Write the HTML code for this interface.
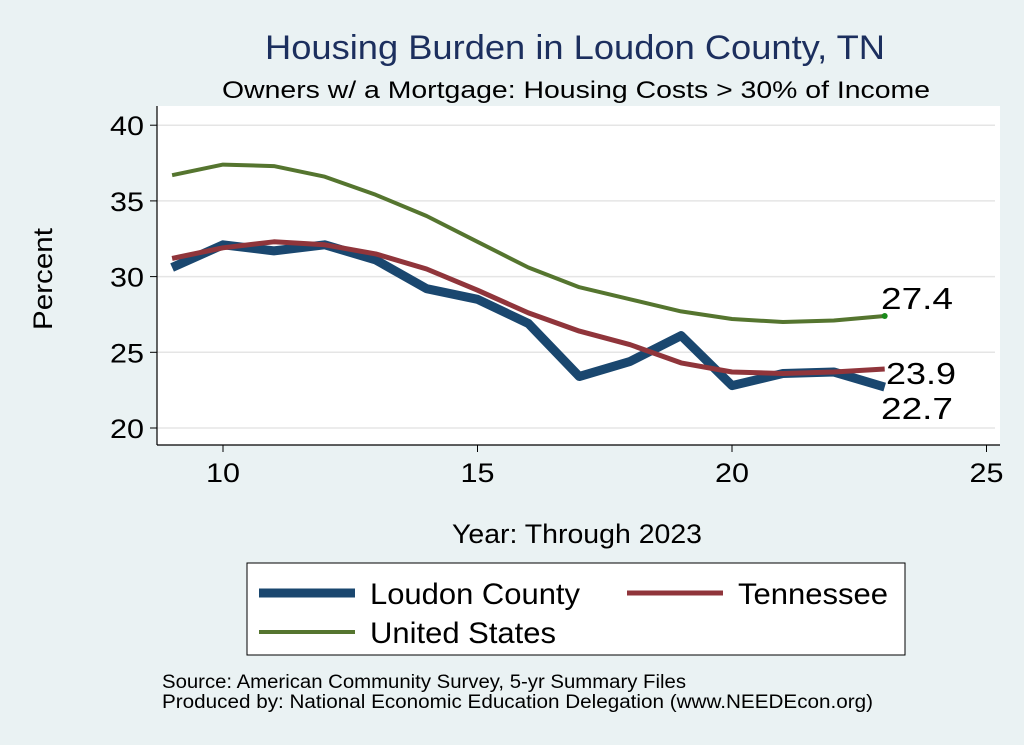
<!DOCTYPE html>
<html><head><meta charset="utf-8"><style>
body{margin:0;background:#eaf2f3;}
svg{display:block;font-family:"Liberation Sans",sans-serif;}
</style></head><body>
<svg id="s" width="1024" height="745" viewBox="0 0 1024 745">
<rect width="1024" height="745" fill="#eaf2f3"/>
<rect x="157" y="106" width="843" height="339" fill="#fff"/>
<text x="265" y="59" font-size="34" fill="#1c2f5e" textLength="620" lengthAdjust="spacingAndGlyphs">Housing Burden in Loudon County, TN</text>
<text x="222" y="98" font-size="24" fill="#000" textLength="708" lengthAdjust="spacingAndGlyphs">Owners w/ a Mortgage: Housing Costs &gt; 30% of Income</text>
<g id="grid" stroke="#e5e5e5" stroke-width="1.5"></g>
<line x1="157" y1="106" x2="157" y2="445" stroke="#000" stroke-width="1.2"/>
<line x1="157" y1="445" x2="1000" y2="445" stroke="#000" stroke-width="1.2"/>
<g id="ticks" font-size="27" fill="#000"></g>
<text transform="translate(52,279) rotate(-90)" text-anchor="middle" font-size="27" textLength="102" lengthAdjust="spacingAndGlyphs">Percent</text>
<text x="452" y="543" font-size="27" textLength="250" lengthAdjust="spacingAndGlyphs">Year: Through 2023</text>
<g id="lines" fill="none" stroke-linejoin="round"></g>
<text x="881" y="309" font-size="31" textLength="72" lengthAdjust="spacingAndGlyphs">27.4</text>
<text x="886" y="384" font-size="31" textLength="70" lengthAdjust="spacingAndGlyphs">23.9</text>
<text x="881" y="419" font-size="31" textLength="72" lengthAdjust="spacingAndGlyphs">22.7</text>
<rect x="247" y="563" width="658" height="92" fill="#fff" stroke="#000" stroke-width="1"/>
<line x1="259" y1="593" x2="355" y2="593" stroke="#1a476f" stroke-width="9"/>
<text x="370" y="604" font-size="30" textLength="210" lengthAdjust="spacingAndGlyphs">Loudon County</text>
<line x1="627" y1="593" x2="723" y2="593" stroke="#90353b" stroke-width="5"/>
<text x="738" y="604" font-size="30" textLength="150" lengthAdjust="spacingAndGlyphs">Tennessee</text>
<line x1="259" y1="632" x2="355" y2="632" stroke="#55752f" stroke-width="4"/>
<text x="370" y="643" font-size="30" textLength="186" lengthAdjust="spacingAndGlyphs">United States</text>
<text x="162" y="688" font-size="19" textLength="524" lengthAdjust="spacingAndGlyphs">Source: American Community Survey, 5-yr Summary Files</text>
<text x="162" y="708" font-size="19" textLength="711" lengthAdjust="spacingAndGlyphs">Produced by: National Economic Education Delegation (www.NEEDEcon.org)</text>
</svg>
<script>
const NS="http://www.w3.org/2000/svg";
const X=yr=>223+(yr-10)*50.9, Y=v=>428-(v-20)*15.14;
function el(p,t,a,txt){const e=document.createElementNS(NS,t);for(const k in a)e.setAttribute(k,a[k]);if(txt)e.textContent=txt;document.getElementById(p).appendChild(e);}
[20,25,30,35,40].forEach(v=>{el("grid","line",{x1:157,x2:995,y1:Y(v),y2:Y(v)});
el("ticks","line",{x1:150,x2:157,y1:Y(v),y2:Y(v),stroke:"#000"});
el("ticks","text",{x:144,y:Y(v)+10,"text-anchor":"end",textLength:34,lengthAdjust:"spacingAndGlyphs"},String(v));});
[10,15,20,25].forEach(t=>{el("ticks","line",{x1:X(t),x2:X(t),y1:445,y2:452,stroke:"#000"});
el("ticks","text",{x:X(t)-17,y:482,textLength:34,lengthAdjust:"spacingAndGlyphs"},String(t));});
const d={
us:[36.7,37.4,37.3,36.6,35.4,34.0,32.3,30.6,29.3,28.5,27.7,27.2,27.0,27.1,27.4],
tn:[31.2,31.9,32.3,32.1,31.5,30.5,29.1,27.6,26.4,25.5,24.3,23.7,23.6,23.7,23.9],
lc:[30.6,32.1,31.7,32.1,31.1,29.2,28.5,26.9,23.4,24.4,26.1,22.8,23.6,23.7,22.7]};
function pts(a){return a.map((v,i)=>X(9+i).toFixed(1)+","+Y(v).toFixed(1)).join(" ");}
el("lines","polyline",{points:pts(d.lc),stroke:"#1a476f","stroke-width":9});
el("lines","polyline",{points:pts(d.tn),stroke:"#90353b","stroke-width":5});
el("lines","polyline",{points:pts(d.us),stroke:"#55752f","stroke-width":4});
el("lines","circle",{cx:X(23),cy:Y(27.4),r:3,fill:"#1a8a1a",stroke:"none"});
</script>
</body></html>
